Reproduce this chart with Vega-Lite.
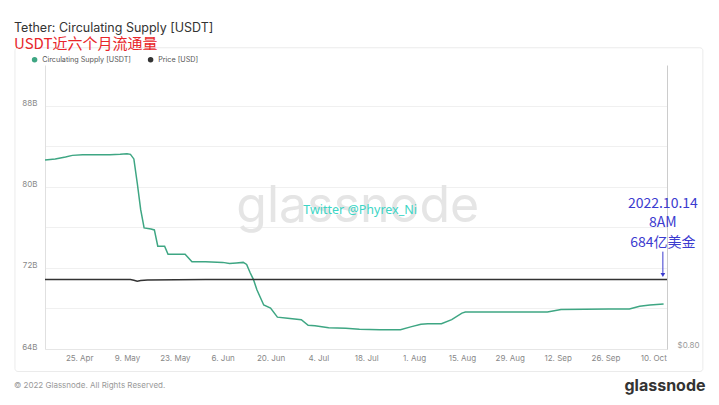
{
  "$schema": "https://vega.github.io/schema/vega-lite/v6.json",
  "width": 622,
  "height": 284,
  "autosize": {"type": "none"},
  "padding": {"left": 45, "top": 65, "right": 52, "bottom": 56},
  "background": "white",
  "config": {"view": {"stroke": null}, "font": "Inter"},
  "title": {
    "text": "Tether: Circulating Supply [USDT]",
    "subtitle": "USDT近六个月流通量",
    "anchor": "start",
    "frame": "group",
    "dx": -31,
    "offset": -5,
    "font": "Inter",
    "fontSize": 12.5,
    "fontWeight": "normal",
    "color": "#333333",
    "subtitleFont": "Noto Sans CJK SC",
    "subtitleFontSize": 15,
    "subtitleColor": "#e8262a",
    "subtitlePadding": 3
  },
  "datasets": {
    "supply": [
      {"date": "2022-04-15", "supply": 82.64},
      {"date": "2022-04-18", "supply": 82.74},
      {"date": "2022-04-21", "supply": 82.94},
      {"date": "2022-04-23", "supply": 83.09},
      {"date": "2022-04-26", "supply": 83.14},
      {"date": "2022-04-30", "supply": 83.14},
      {"date": "2022-05-04", "supply": 83.14},
      {"date": "2022-05-07", "supply": 83.19},
      {"date": "2022-05-09", "supply": 83.24},
      {"date": "2022-05-10", "supply": 83.19},
      {"date": "2022-05-11", "supply": 82.74},
      {"date": "2022-05-12", "supply": 80.34},
      {"date": "2022-05-13", "supply": 77.74},
      {"date": "2022-05-14", "supply": 75.94},
      {"date": "2022-05-16", "supply": 75.84},
      {"date": "2022-05-17", "supply": 75.74},
      {"date": "2022-05-18", "supply": 74.14},
      {"date": "2022-05-20", "supply": 74.14},
      {"date": "2022-05-21", "supply": 73.34},
      {"date": "2022-05-23", "supply": 73.34},
      {"date": "2022-05-26", "supply": 73.34},
      {"date": "2022-05-28", "supply": 72.59},
      {"date": "2022-06-01", "supply": 72.59},
      {"date": "2022-06-06", "supply": 72.54},
      {"date": "2022-06-08", "supply": 72.44},
      {"date": "2022-06-10", "supply": 72.49},
      {"date": "2022-06-12", "supply": 72.54},
      {"date": "2022-06-13", "supply": 72.34},
      {"date": "2022-06-14", "supply": 71.54},
      {"date": "2022-06-15", "supply": 70.84},
      {"date": "2022-06-16", "supply": 69.84},
      {"date": "2022-06-18", "supply": 68.34},
      {"date": "2022-06-20", "supply": 68.04},
      {"date": "2022-06-22", "supply": 67.14},
      {"date": "2022-06-25", "supply": 67.04},
      {"date": "2022-06-29", "supply": 66.89},
      {"date": "2022-07-01", "supply": 66.34},
      {"date": "2022-07-03", "supply": 66.29},
      {"date": "2022-07-07", "supply": 66.09},
      {"date": "2022-07-12", "supply": 66.04},
      {"date": "2022-07-16", "supply": 65.94},
      {"date": "2022-07-22", "supply": 65.91},
      {"date": "2022-07-28", "supply": 65.91},
      {"date": "2022-07-31", "supply": 66.18},
      {"date": "2022-08-03", "supply": 66.44},
      {"date": "2022-08-05", "supply": 66.5},
      {"date": "2022-08-09", "supply": 66.5},
      {"date": "2022-08-12", "supply": 66.9},
      {"date": "2022-08-15", "supply": 67.54},
      {"date": "2022-08-16", "supply": 67.64},
      {"date": "2022-08-25", "supply": 67.64},
      {"date": "2022-09-01", "supply": 67.64},
      {"date": "2022-09-09", "supply": 67.64},
      {"date": "2022-09-13", "supply": 67.89},
      {"date": "2022-09-20", "supply": 67.91},
      {"date": "2022-09-27", "supply": 67.94},
      {"date": "2022-10-03", "supply": 67.94},
      {"date": "2022-10-06", "supply": 68.21},
      {"date": "2022-10-09", "supply": 68.34},
      {"date": "2022-10-13", "supply": 68.44}
    ],
    "price": [
      {"date": "2022-04-15", "price": 1.0},
      {"date": "2022-05-01", "price": 1.0},
      {"date": "2022-05-10", "price": 1.0},
      {"date": "2022-05-11", "price": 0.998},
      {"date": "2022-05-12", "price": 0.995},
      {"date": "2022-05-13", "price": 0.997},
      {"date": "2022-05-15", "price": 0.999},
      {"date": "2022-06-01", "price": 1.0},
      {"date": "2022-07-01", "price": 1.0},
      {"date": "2022-08-01", "price": 1.0},
      {"date": "2022-09-01", "price": 1.0},
      {"date": "2022-10-01", "price": 1.0},
      {"date": "2022-10-14", "price": 1.0}
    ]
  },
  "layer": [
    {
      "layer": [
        {
          "data": {"values": [{}]},
          "mark": {"type": "rect", "fill": null, "stroke": "#ebebeb", "strokeWidth": 1, "cornerRadius": 3},
          "encoding": {
            "x": {"datum": {"year": 2022, "month": 4, "date": 6, "hours": 5}, "type": "temporal"},
            "x2": {"datum": {"year": 2022, "month": 10, "date": 24, "hours": 12}},
            "y": {"datum": 93.7, "type": "quantitative"},
            "y2": {"datum": 61.78}
          }
        },
        {
          "data": {"values": [{}]},
          "mark": {"type": "text", "text": "glassnode", "fontSize": 50, "color": "#e5e5e5", "font": "Inter", "align": "center", "baseline": "middle"},
          "encoding": {
            "x": {"datum": {"year": 2022, "month": 7, "date": 15, "hours": 12}, "type": "temporal"},
            "y": {"datum": 78.04, "type": "quantitative"}
          }
        },
        {
          "data": {"name": "supply"},
          "mark": {"type": "line", "strokeWidth": 1.5},
          "encoding": {
            "x": {
              "field": "date",
              "type": "temporal",
              "title": null,
              "scale": {"domain": [{"year": 2022, "month": 4, "date": 15}, {"year": 2022, "month": 10, "date": 14}]},
              "axis": {
                "title": null,
                "values": [
                  {"year": 2022, "month": 4, "date": 25},
                  {"year": 2022, "month": 5, "date": 9},
                  {"year": 2022, "month": 5, "date": 23},
                  {"year": 2022, "month": 6, "date": 6},
                  {"year": 2022, "month": 6, "date": 20},
                  {"year": 2022, "month": 7, "date": 4},
                  {"year": 2022, "month": 7, "date": 18},
                  {"year": 2022, "month": 8, "date": 1},
                  {"year": 2022, "month": 8, "date": 15},
                  {"year": 2022, "month": 8, "date": 29},
                  {"year": 2022, "month": 9, "date": 12},
                  {"year": 2022, "month": 9, "date": 26},
                  {"year": 2022, "month": 10, "date": 10}
                ],
                "format": "%-d. %b",
                "labelFontSize": 8,
                "labelColor": "#888888",
                "labelFont": "Inter",
                "ticks": false,
                "grid": false,
                "domain": true,
                "domainColor": "#e6e6e6",
                "labelPadding": 5,
                "labelFlush": false
              }
            },
            "y": {
              "field": "supply",
              "type": "quantitative",
              "title": null,
              "scale": {"domain": [64, 92], "nice": false, "zero": false},
              "axis": {
                "title": null,
                "values": [64, 68, 72, 76, 80, 84, 88],
                "labelExpr": "datum.value % 8 == 0 ? datum.value + 'B' : ''",
                "grid": true,
                "gridColor": "#f0f0f0",
                "ticks": false,
                "domain": true,
                "domainColor": "#e0e0e0",
                "labelFontSize": 8,
                "labelColor": "#888888",
                "labelFont": "Inter",
                "labelPadding": 8,
                "labelBaseline": "alphabetic",
                "labelFlush": false
              }
            },
            "color": {
              "datum": "Circulating Supply [USDT]",
              "type": "nominal",
              "scale": {"domain": ["Circulating Supply [USDT]", "Price [USD]"], "range": ["#3ea683", "#333333"]},
              "legend": {
                "orient": "none",
                "legendX": -14,
                "legendY": -9,
                "direction": "horizontal",
                "title": null,
                "symbolType": "circle",
                "symbolSize": 30,
                "symbolStrokeWidth": 0,
                "labelFontSize": 7.2,
                "labelColor": "#555555",
                "labelFont": "Inter",
                "labelOffset": 4,
                "columnPadding": 16,
                "encode": {"symbols": {"update": {"fill": {"scale": "color", "field": "value"}, "stroke": {"value": "transparent"}}}}
              }
            }
          }
        },
        {
          "data": {"values": [{}]},
          "mark": {"type": "text", "text": "Twitter @Phyrex_Ni", "fontSize": 12.5, "color": "#3dd5c5", "font": "Noto Sans", "align": "center", "baseline": "middle"},
          "encoding": {
            "x": {"datum": {"year": 2022, "month": 7, "date": 16, "hours": 5}, "type": "temporal"},
            "y": {"datum": 77.74, "type": "quantitative"}
          }
        },
        {
          "data": {"values": [{}]},
          "mark": {"type": "text", "text": ["2022.10.14", "8AM", "684亿美金"], "fontSize": 14, "lineHeight": 19.5, "color": "#3b3bcf", "font": "Noto Sans CJK SC", "align": "center", "baseline": "middle"},
          "encoding": {
            "x": {"datum": {"year": 2022, "month": 10, "date": 12, "hours": 19}, "type": "temporal"},
            "y": {"datum": 78.3, "type": "quantitative"}
          }
        },
        {
          "data": {"values": [{}]},
          "mark": {"type": "rule", "color": "#3b3bcf", "strokeWidth": 1},
          "encoding": {
            "x": {"datum": {"year": 2022, "month": 10, "date": 12, "hours": 19}, "type": "temporal"},
            "y": {"datum": 73.6, "type": "quantitative"},
            "y2": {"datum": 71.5}
          }
        },
        {
          "data": {"values": [{}]},
          "mark": {"type": "point", "shape": "triangle-down", "size": 22, "filled": true, "color": "#3b3bcf", "opacity": 1},
          "encoding": {
            "x": {"datum": {"year": 2022, "month": 10, "date": 12, "hours": 19}, "type": "temporal"},
            "y": {"datum": 71.3, "type": "quantitative"}
          }
        },
        {
          "data": {"values": [{}]},
          "mark": {"type": "text", "text": "© 2022 Glassnode. All Rights Reserved.", "fontSize": 8, "color": "#999999", "font": "Inter", "align": "left", "baseline": "middle", "dx": -31, "dy": 37},
          "encoding": {
            "x": {"datum": {"year": 2022, "month": 4, "date": 15}, "type": "temporal"},
            "y": {"datum": 64, "type": "quantitative"}
          }
        },
        {
          "data": {"values": [{}]},
          "mark": {"type": "text", "text": "glassnode", "fontSize": 16, "fontWeight": "bold", "color": "#333333", "font": "Inter", "align": "center", "baseline": "middle", "dx": -2, "dy": 37},
          "encoding": {
            "x": {"datum": {"year": 2022, "month": 10, "date": 14}, "type": "temporal"},
            "y": {"datum": 64, "type": "quantitative"}
          }
        }
      ]
    },
    {
      "data": {"name": "price"},
      "mark": {"type": "line", "strokeWidth": 1.5},
      "encoding": {
        "x": {"field": "date", "type": "temporal", "title": null},
        "y": {
          "field": "price",
          "type": "quantitative",
          "title": null,
          "scale": {"domain": [0.8, 1.618], "nice": false, "zero": false},
          "axis": {
            "title": null,
            "orient": "right",
            "values": [0.8],
            "format": "$.2f",
            "grid": false,
            "ticks": false,
            "domain": true,
            "domainColor": "#cccccc",
            "labelFontSize": 8,
            "labelColor": "#999999",
            "labelFont": "Inter",
            "labelPadding": 10,
            "labelBaseline": "bottom",
            "labelFlush": false
          }
        },
        "color": {"datum": "Price [USD]", "type": "nominal"}
      }
    }
  ],
  "resolve": {"scale": {"y": "independent"}}
}
